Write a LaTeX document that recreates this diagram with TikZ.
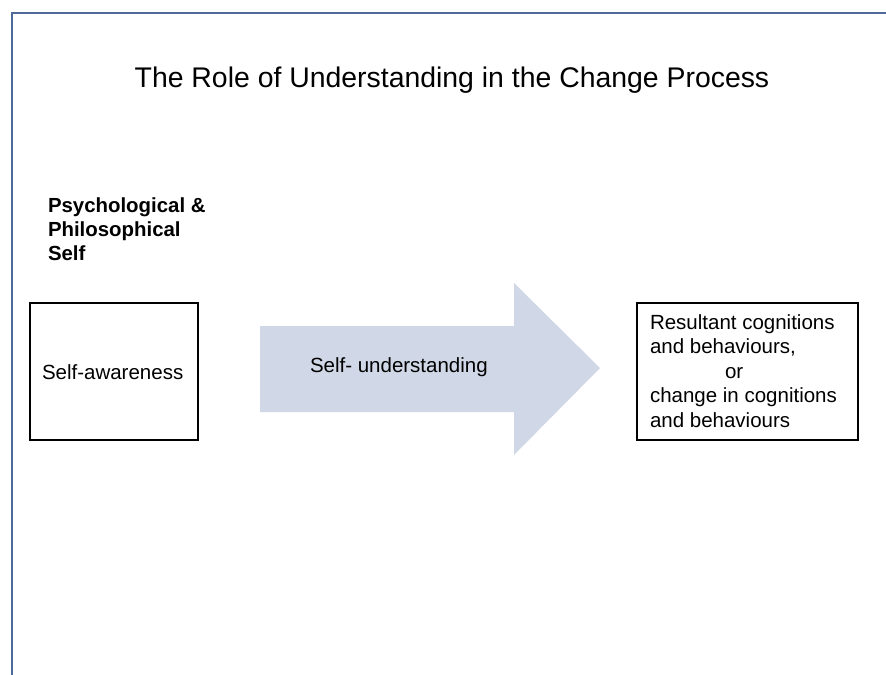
\documentclass[tikz,border=0pt]{standalone}
\usepackage{fontspec}
\setmainfont{Liberation Sans}
\definecolor{frameblue}{RGB}{79,106,152}
\definecolor{arrowfill}{RGB}{208,215,230}
\tikzset{
  txt/.style={inner sep=0pt, outer sep=0pt, font=\fontsize{20.5bp}{24.5bp}\selectfont, align=left},
  boxed/.style={draw=black, line width=2bp}
}
\begin{document}
\begin{tikzpicture}[x=1bp, y=-1bp]
\useasboundingbox (0,0) rectangle (886,675);
\fill[white] (0,0) rectangle (886,675);
% frame
\draw[frameblue, line width=2.2bp] (886,13) -- (12,13) -- (12,676);
% title
\node[inner sep=0pt, anchor=base, font=\fontsize{28.4bp}{32bp}\selectfont] (title) at (452,88) {The Role of Understanding in the Change Process};
% heading (anchor = baseline of last line)
\node[txt, anchor=base west, font=\bfseries\fontsize{20.4bp}{24bp}\selectfont] (heading) at (48,260) {Psychological \&\\Philosophical\\Self};
% left box
\draw[boxed] (30,303) rectangle (198,440);
\node[txt, anchor=base west] (aware) at (42,379) {Self-awareness};
% arrow
\fill[arrowfill] (260,326) -- (514,326) -- (514,283) -- (600,368) -- (514,455) -- (514,412) -- (260,412) -- cycle;
\node[txt, anchor=base west] (under) at (310,372) {Self- understanding};
% right box
\draw[boxed] (637,303) rectangle (858,440);
\node[txt, anchor=base west] (result) at (650,427) {Resultant cognitions\\and behaviours,\\\hspace*{75bp}or\\change in cognitions\\and behaviours};
\end{tikzpicture}
\end{document}
